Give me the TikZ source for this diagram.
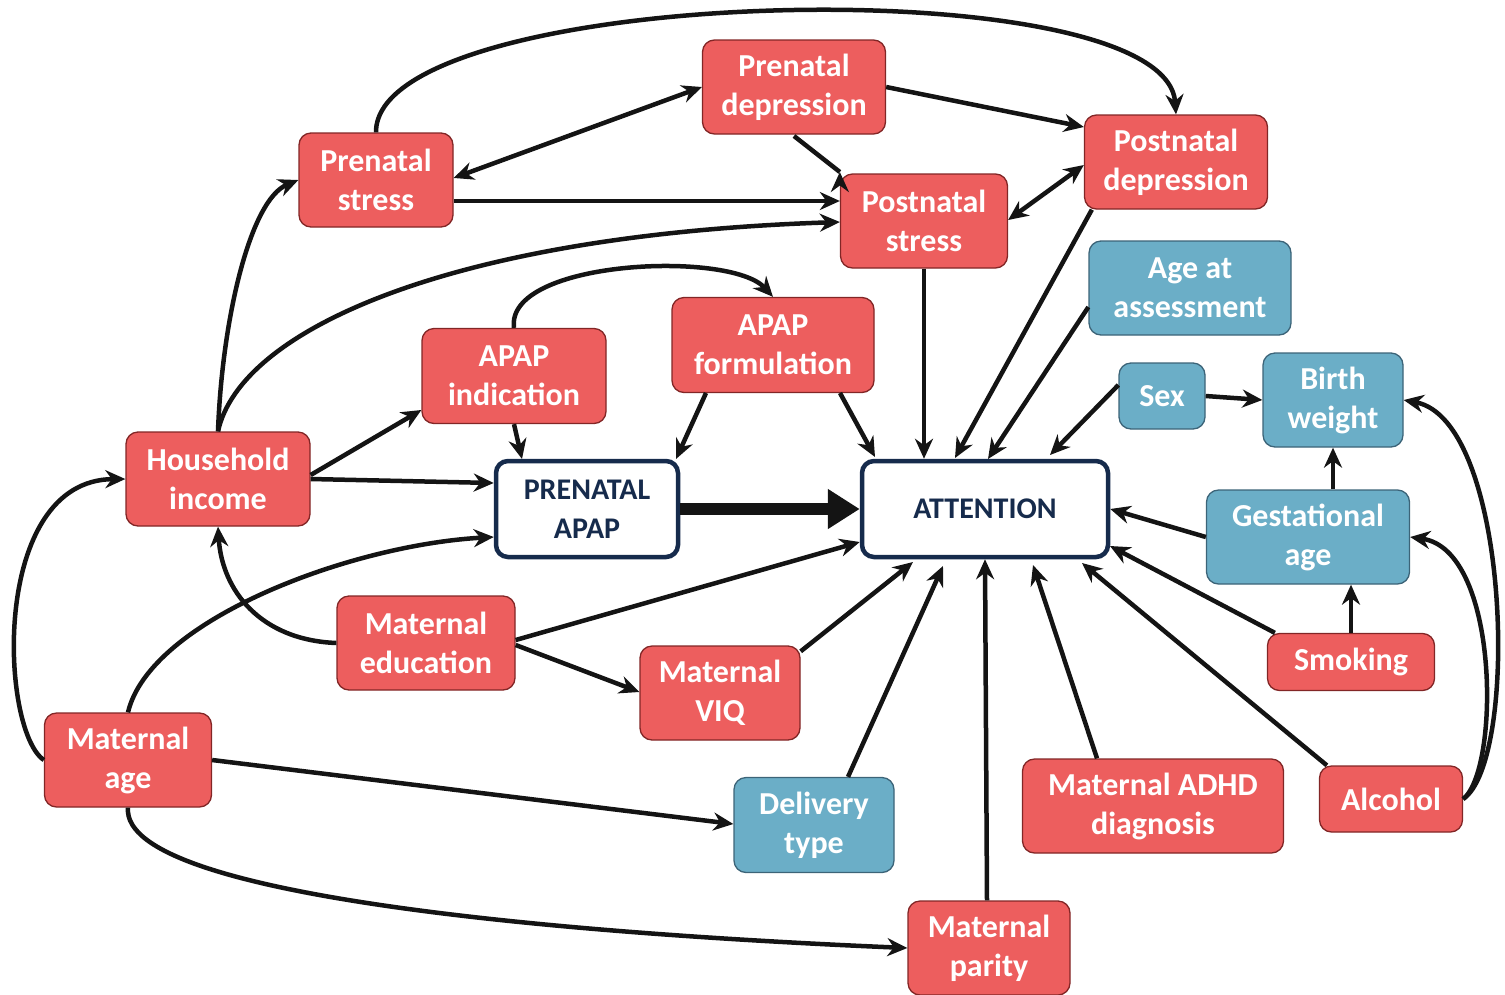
\documentclass[tikz,border=0pt]{standalone}
\usepackage{fontspec}
\setmainfont{Carlito}
\usetikzlibrary{arrows.meta}
\definecolor{redfill}{RGB}{237,94,94}
\definecolor{redline}{RGB}{130,38,38}
\definecolor{bluefill}{RGB}{107,174,199}
\definecolor{blueline}{RGB}{60,100,120}
\definecolor{navy}{RGB}{22,43,76}
\definecolor{arrowcol}{RGB}{20,20,20}
\tikzset{
  box/.style={rectangle, rounded corners=12pt, inner sep=0pt, align=center,
    font=\fontsize{32}{39}\selectfont\bfseries, text=white, line width=1.3pt},
  rbox/.style={box, fill=redfill, draw=redline},
  bbox/.style={box, fill=bluefill, draw=blueline},
  mbox/.style={box, fill=white, draw=navy, line width=4.5pt, text=navy, font=\fontsize{30}{39}\selectfont\bfseries},
  arr/.style={draw=arrowcol, line width=4.5pt, -{Stealth[length=20pt,width=18pt]}},
  barr/.style={draw=arrowcol, line width=4.5pt, {Stealth[length=20pt,width=18pt]}-{Stealth[length=20pt,width=18pt]}},
  sz/.style 2 args={minimum width=#1pt, minimum height=#2pt}
}
\begin{document}
\begin{tikzpicture}[x=1pt,y=-1pt]
\useasboundingbox (0,0) rectangle (1505,994);
% nodes
\node[rbox, sz={183}{94}] (pdep) at (794,87) {Prenatal\\depression};
\node[rbox, sz={154}{94}] (pst) at (376,180) {Prenatal\\stress};
\node[rbox, sz={183}{94}] (podep) at (1176,162) {Postnatal\\depression};
\node[rbox, sz={167}{94}] (post) at (924,221) {Postnatal\\stress};
\node[bbox, sz={202}{94}] (age) at (1190,288) {Age at\\assessment};
\node[rbox, sz={184}{95}] (ind) at (514,376) {APAP\\indication};
\node[rbox, sz={202}{95}] (form) at (773,345) {APAP\\formulation};
\node[bbox, sz={86}{66}] (sex) at (1162,396) {Sex};
\node[bbox, sz={140}{94}] (bw) at (1333,400) {Birth\\weight};
\node[rbox, sz={184}{94}] (inc) at (218,479) {Household\\income};
\node[mbox, sz={182}{96}] (apap) at (587,509) {PRENATAL\\APAP};
\node[mbox, sz={246}{96}] (att) at (985,509) {ATTENTION};
\node[bbox, sz={203}{94}] (ga) at (1308,537) {Gestational\\age};
\node[rbox, sz={178}{94}] (edu) at (426,643) {Maternal\\education};
\node[rbox, sz={160}{94}] (viq) at (720,693) {Maternal\\VIQ};
\node[rbox, sz={167}{57}] (smk) at (1351,662) {Smoking};
\node[rbox, sz={167}{94}] (mage) at (128,760) {Maternal\\age};
\node[bbox, sz={160}{95}] (del) at (814,825) {Delivery\\type};
\node[rbox, sz={261}{94}] (adhd) at (1153,806) {Maternal ADHD\\diagnosis};
\node[rbox, sz={143}{66}] (alc) at (1391,799) {Alcohol};
\node[rbox, sz={162}{94}] (par) at (989,948) {Maternal\\parity};
% edges
\draw[arr] (pst.north) .. controls (375,-15) and (1165,-35) .. (podep.north);
\draw[barr] (pst.east |- 0,178) -- (pdep.west |- 0,87);
\draw[arr] (pdep.east) -- (podep.west |- 0,127);
\draw[arr] (794,136) -- (post.north west |- 0,172) ++(0,0);
\draw[arr] (pst.east |- 0,201) -- (post.west |- 0,201);
\draw[barr] (post.east |- 0,220) -- (podep.west |- 0,165);
\draw[arr] (inc.north) .. controls (222,320) and (250,200) .. (pst.west);
\draw[arr] (inc.north) .. controls (240,330) and (450,235) .. (post.west |- 0,222);
\draw[arr] (post.south) -- (att.north west -| post.south);
\draw[arr] (podep.south west) ++(8,0) -- (955,458);
\draw[arr] (age.west |- 0,307) -- (988,459);
\draw[arr] (sex.west |- 0,385) -- (1050,455);
\draw[arr] (sex.east) -- (bw.west);
\draw[arr] (ga.north -| bw.south) -- (bw.south);
\draw[arr] (smk.north) -- (ga.south -| smk.north);
\draw[arr] (ga.west) -- (att.east);
\draw[arr] (smk.north west) ++(8,0) -- (1110,546);
\draw[arr] (alc.north west) ++(8,0) -- (1082,563);
\draw[arr] (alc.east) .. controls (1500,770) and (1500,550) .. (ga.east);
\draw[arr] (alc.east) .. controls (1520,760) and (1510,420) .. (bw.east);
\draw[arr] (adhd.north -| 1097,0) -- (1033,565);
\draw[arr] (par.north -| 987,0) -- (att.south -| 985,0);
\draw[arr] (del.north -| 848,0) -- (943,566);
\draw[arr] (viq.north east) ++(0,6) -- (913,562);
\draw[arr] (edu.east |- 0,640) -- (att.west |- 0,542);
\draw[arr] (edu.east |- 0,645) -- (viq.west |- 0,692);
\draw[arr] (edu.west) .. controls (260,640) and (222,590) .. (inc.south);
\draw[arr] (inc.east |- 0,475) -- (ind.west |- 0,410);
\draw[arr] (inc.east) -- (apap.west |- 0,483);
\draw[arr] (ind.south) ++(0,0) -- (522,459);
\draw[arr] (706,393) -- (676,459);
\draw[arr] (840,393) -- (875,457);
\draw[arr] (ind.north) .. controls (505,260) and (730,250) .. (form.north);
\draw[draw=arrowcol, line width=12pt, -{Triangle[length=32pt,width=38pt]}] (apap.east) -- (att.west);
\draw[arr] (mage.north) .. controls (150,620) and (350,545) .. (apap.west |- 0,537);
\draw[arr] (mage.west) .. controls (0,730) and (-10,480) .. (inc.west);
\draw[arr] (mage.east) -- (del.west |- 0,824);
\draw[arr] (mage.south) .. controls (120,900) and (600,935) .. (par.west);
\end{tikzpicture}
\end{document}
